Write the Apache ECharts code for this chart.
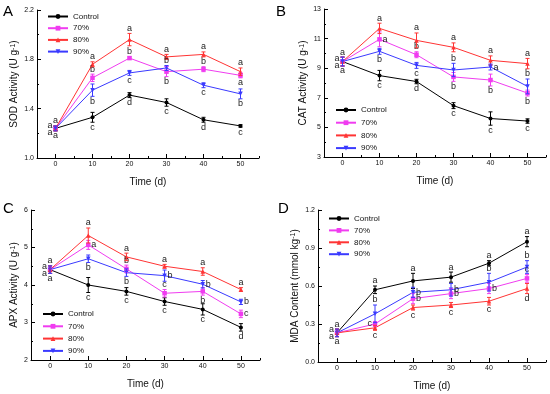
<!DOCTYPE html>
<html><head><meta charset="utf-8">
<script src="https://cdn.jsdelivr.net/npm/echarts@6/dist/echarts.min.js"></script>
<style>html,body{margin:0;padding:0;background:#fff}#c{width:550px;height:394px}</style>
</head><body><div id="c"></div>
<script>
// ---------- data ----------
const days = [0, 10, 20, 30, 40, 50];
const seriesNames = ['Control', '70%', '80%', '90%'];

// A: SOD activity
const sodControl = [1.24, 1.33, 1.51, 1.45, 1.31, 1.26];
const sod70 = [1.24, 1.65, 1.81, 1.70, 1.72, 1.67];
const sod80 = [1.24, 1.76, 1.96, 1.82, 1.84, 1.70];
const sod90 = [1.24, 1.55, 1.69, 1.73, 1.59, 1.52];
const sodControlErr = [0.02, 0.04, 0.02, 0.03, 0.02, 0.01];
const sod70Err = [0.02, 0.03, 0.01, 0.04, 0.02, 0.02];
const sod80Err = [0.02, 0.02, 0.05, 0.02, 0.02, 0.03];
const sod90Err = [0.02, 0.05, 0.02, 0.02, 0.02, 0.04];
const sodControlLetters = ['a', 'c', 'd', 'c', 'd', 'c'];
const sod70Letters = ['a', 'b', 'b', 'b', 'b', 'a'];
const sod80Letters = ['a', 'a', 'a', 'a', 'a', 'a'];
const sod90Letters = ['a', 'b', 'c', 'b', 'c', 'b'];

// B: CAT activity
const catControl = [9.45, 8.50, 8.10, 6.47, 5.60, 5.43];
const cat70 = [9.45, 10.95, 9.91, 8.41, 8.20, 7.32];
const cat80 = [9.45, 11.69, 10.88, 10.41, 9.53, 9.31];
const cat90 = [9.45, 10.14, 9.19, 8.88, 9.08, 7.77];
const catControlErr = [0.3, 0.35, 0.15, 0.2, 0.45, 0.15];
const cat70Err = [0.3, 0.5, 0.2, 0.3, 0.4, 0.2];
const cat80Err = [0.3, 0.35, 0.5, 0.3, 0.3, 0.35];
const cat90Err = [0.3, 0.2, 0.2, 0.45, 0.2, 0.5];
const catControlLetters = ['a', 'c', 'd', 'c', 'c', 'c'];
const cat70Letters = ['a', 'a', 'b', 'b', 'b', 'b'];
const cat80Letters = ['a', 'a', 'a', 'a', 'a', 'a'];
const cat90Letters = ['a', 'b', 'c', 'b', 'a', 'b'];

// C: APX activity
const apxControl = [4.41, 4.00, 3.83, 3.56, 3.35, 2.87];
const apx70 = [4.41, 5.07, 4.43, 3.78, 3.83, 3.23];
const apx80 = [4.41, 5.32, 4.75, 4.50, 4.36, 3.88];
const apx90 = [4.41, 4.70, 4.33, 4.25, 4.02, 3.55];
const apxControlErr = [0.1, 0.2, 0.1, 0.1, 0.15, 0.1];
const apx70Err = [0.1, 0.12, 0.1, 0.1, 0.1, 0.1];
const apx80Err = [0.1, 0.2, 0.1, 0.05, 0.1, 0.05];
const apx90Err = [0.1, 0.1, 0.1, 0.15, 0.1, 0.07];
const apxControlLetters = ['a', 'c', 'c', 'c', 'c', 'd'];
const apx70Letters = ['a', 'a', 'b', 'c', 'b', 'c'];
const apx80Letters = ['a', 'a', 'a', 'a', 'a', 'a'];
const apx90Letters = ['a', 'b', 'b', 'b', 'b', 'b'];

// D: MDA content
const mdaControl = [0.23, 0.57, 0.64, 0.67, 0.78, 0.95];
const mda70 = [0.23, 0.30, 0.50, 0.54, 0.58, 0.66];
const mda80 = [0.23, 0.27, 0.43, 0.45, 0.48, 0.58];
const mda90 = [0.23, 0.38, 0.55, 0.57, 0.63, 0.75];
const mdaControlErr = [0.03, 0.03, 0.06, 0.04, 0.02, 0.04];
const mda70Err = [0.03, 0.02, 0.04, 0.04, 0.04, 0.03];
const mda80Err = [0.03, 0.02, 0.02, 0.02, 0.03, 0.04];
const mda90Err = [0.03, 0.07, 0.04, 0.05, 0.07, 0.05];
const mdaControlLetters = ['a', 'a', 'a', 'a', 'a', 'a'];
const mda70Letters = ['a', 'c', 'b', 'b', 'b', 'c'];
const mda80Letters = ['a', 'c', 'c', 'c', 'c', 'd'];
const mda90Letters = ['a', 'b', 'b', 'b', 'b', 'b'];

// axis tick values
const sodTicks = [1.0, 1.4, 1.8, 2.2];
const catTicks = [3, 5, 7, 9, 11, 13];
const apxTicks = [2, 3, 4, 5, 6];
const mdaTicks = [0.0, 0.3, 0.6, 0.9, 1.2];

// ---------- layout / style (not data) ----------
const colors = ['#000000', '#f03cf0', '#ff3434', '#3a3aff'];
const symbols = ['circle', 'rect', 'triangle', 'path://M0,0L10,0L5,10Z'];
const FONT = 'Arial, "Liberation Sans", sans-serif';
// letter placement around each point: t=above, b=below, l/r=left/right, lu/ld = left upper/lower
const sides = {
  A: [['b','b','b','b','b','b'], ['lu','t','t','b','t','b'], ['t','t','t','t','t','t'], ['ld','b','b','t','b','b']],
  B: [['b','b','b','b','b','b'], ['lu','r','t','b','b','b'], ['t','t','t','t','t','t'], ['ld','b','b','t','r','t']],
  C: [['b','b','b','b','b','b'], ['lu','r','t','t','b','r'], ['t','t','t','t','t','t'], ['ld','b','b','r','r','r']],
  D: [['t','t','t','t','t','t'], ['lu','l','r','r','r','t'], ['b','b','b','b','b','b'], ['ld','t','r','r','t','t']]
};

const panels = [
  { key: 'A', vals: [sodControl, sod70, sod80, sod90], errs: [sodControlErr, sod70Err, sod80Err, sod90Err],
    letters: [sodControlLetters, sod70Letters, sod80Letters, sod90Letters], ticks: sodTicks,
    grid: { left: 37, top: 10, width: 222, height: 148 }, yName: 'SOD Activity (U g{s|-1})', yGap: 16, dec: 1,
    legend: { left: 47, top: 12.5, itemGap: 3.7 }, tag: { left: 3, top: 4 } },
  { key: 'B', vals: [catControl, cat70, cat80, cat90], errs: [catControlErr, cat70Err, cat80Err, cat90Err],
    letters: [catControlLetters, cat70Letters, cat80Letters, cat90Letters], ticks: catTicks,
    grid: { left: 324, top: 9, width: 222, height: 148 }, yName: 'CAT Activity (U g{s|-1})', yGap: 14, dec: 0,
    legend: { left: 335, top: 106, itemGap: 4.7 }, tag: { left: 276, top: 4 } },
  { key: 'C', vals: [apxControl, apx70, apx80, apx90], errs: [apxControlErr, apx70Err, apx80Err, apx90Err],
    letters: [apxControlLetters, apx70Letters, apx80Letters, apx90Letters], ticks: apxTicks,
    grid: { left: 31, top: 210, width: 229, height: 150 }, yName: 'APX Activity (U g{s|-1})', yGap: 11, dec: 0,
    legend: { left: 42, top: 310, itemGap: 4.3 }, tag: { left: 3, top: 201 } },
  { key: 'D', vals: [mdaControl, mda70, mda80, mda90], errs: [mdaControlErr, mda70Err, mda80Err, mda90Err],
    letters: [mdaControlLetters, mda70Letters, mda80Letters, mda90Letters], ticks: mdaTicks,
    grid: { left: 318, top: 210, width: 228, height: 152 }, yName: 'MDA Content (mmol kg{s|-1})', yGap: 18, dec: 1,
    legend: { left: 328, top: 214.5, itemGap: 3.9 }, tag: { left: 278, top: 201 } }
];

function midpoints(arr) {
  const out = [];
  for (let i = 0; i < arr.length - 1; i++) out.push((arr[i] + arr[i + 1]) / 2);
  return out;
}

function makeRender(panel) {
  const sd = sides[panel.key];
  return function (params, api) {
    const x = api.value(0), y = api.value(1), e = api.value(2), s = api.value(3), i = api.value(4);
    const p = api.coord([x, y]);
    const pt = api.coord([x, y + e]);
    const pb = api.coord([x, y - e]);
    const color = colors[s];
    const letter = panel.letters[s][i];
    const side = sd[s][i];
    let tx = p[0], ty = p[1], align = 'center', va = 'middle';
    switch (side) {
      case 't': ty = pt[1] - 0.5; va = 'bottom'; break;
      case 'b': ty = pb[1] + 0.5; va = 'top'; break;
      case 'l': tx = p[0] - 3; align = 'right'; break;
      case 'r': tx = p[0] + 3; align = 'left'; break;
      case 'lu': tx = p[0] - 3; ty = p[1] - 3; align = 'right'; break;
      case 'ld': tx = p[0] - 3; ty = p[1] + 4; align = 'right'; break;
    }
    return {
      type: 'group',
      children: [
        { type: 'line', shape: { x1: p[0], y1: pt[1], x2: p[0], y2: pb[1] }, style: { stroke: color, lineWidth: 1 } },
        { type: 'line', shape: { x1: p[0] - 2, y1: pt[1], x2: p[0] + 2, y2: pt[1] }, style: { stroke: color, lineWidth: 1 } },
        { type: 'line', shape: { x1: p[0] - 2, y1: pb[1], x2: p[0] + 2, y2: pb[1] }, style: { stroke: color, lineWidth: 1 } },
        { type: 'text', x: tx, y: ty, style: { text: letter, fill: '#222', font: '9px ' + FONT, align: align, verticalAlign: va } }
      ]
    };
  };
}

const grids = [], xAxes = [], yAxes = [], series = [], legends = [], graphics = [];
const minorDays = [-5, 5, 15, 25, 35, 45, 55];

panels.forEach((pn, gi) => {
  grids.push(pn.grid);
  const t = pn.ticks;
  const yMin = t[0], yMax = t[t.length - 1];
  // main x axis
  xAxes.push({
    gridIndex: gi, type: 'value', min: -5, max: 55, position: 'bottom',
    axisLine: { onZero: false, lineStyle: { color: '#000', width: 1 } },
    axisTick: { inside: true, length: 4, customValues: days, lineStyle: { color: '#000' } },
    axisLabel: { customValues: days, fontSize: 7, color: '#111', margin: 3, fontFamily: FONT },
    splitLine: { show: false },
    name: 'Time (d)', nameLocation: 'middle', nameGap: 19,
    nameTextStyle: { fontSize: 10, color: '#111', fontFamily: FONT }
  });
  // minor x ticks
  xAxes.push({
    gridIndex: gi, type: 'value', min: -5, max: 55, position: 'bottom',
    axisLine: { show: false, onZero: false },
    axisTick: { inside: true, length: 2, customValues: minorDays, lineStyle: { color: '#000' } },
    axisLabel: { show: false }, splitLine: { show: false }
  });
  // main y axis
  yAxes.push({
    gridIndex: gi, type: 'value', min: yMin, max: yMax, position: 'left',
    axisLine: { show: true, onZero: false, lineStyle: { color: '#000', width: 1 } },
    axisTick: { show: true, inside: true, length: 4, customValues: t, lineStyle: { color: '#000' } },
    axisLabel: { customValues: t, fontSize: 7, color: '#111', margin: 3, fontFamily: FONT,
      formatter: v => Number(v).toFixed(pn.dec) },
    splitLine: { show: false },
    name: pn.yName, nameLocation: 'middle', nameRotate: 90, nameGap: pn.yGap,
    nameTextStyle: { fontSize: 10, color: '#111', fontFamily: FONT,
      rich: { s: { fontSize: 7, verticalAlign: 'top', lineHeight: 7, color: '#111', fontFamily: FONT, padding: [0, 0, 4, 0] } } }
  });
  // minor y ticks
  yAxes.push({
    gridIndex: gi, type: 'value', min: yMin, max: yMax, position: 'left',
    axisLine: { show: false, onZero: false },
    axisTick: { show: true, inside: true, length: 2, customValues: midpoints(t), lineStyle: { color: '#000' } },
    axisLabel: { show: false }, splitLine: { show: false }
  });

  seriesNames.forEach((nm, s) => {
    series.push({
      name: nm, type: 'line', xAxisIndex: gi * 2, yAxisIndex: gi * 2,
      data: days.map((d, i) => [d, pn.vals[s][i]]),
      symbol: symbols[s], symbolSize: s === 0 ? 4 : 4.5,
      lineStyle: { color: colors[s], width: 1 },
      itemStyle: { color: colors[s] },
      z: 3
    });
  });
  const ebData = [];
  pn.vals.forEach((arr, s) => arr.forEach((v, i) => ebData.push([days[i], v, pn.errs[s][i], s, i])));
  series.push({
    type: 'custom', xAxisIndex: gi * 2, yAxisIndex: gi * 2, clip: false,
    renderItem: makeRender(pn), data: ebData, encode: { x: 0, y: 1 }, z: 4, silent: true
  });

  legends.push({
    data: seriesNames, orient: 'vertical', left: pn.legend.left, top: pn.legend.top,
    itemWidth: 20, itemHeight: 6, itemGap: pn.legend.itemGap, padding: 0, selectedMode: false,
    textStyle: { fontSize: 8, lineHeight: 8, color: '#111', fontFamily: FONT }
  });
  graphics.push({
    type: 'text', left: pn.tag.left, top: pn.tag.top,
    style: { text: pn.key, font: '15px ' + FONT, fill: '#000' }
  });
});

const chart = echarts.init(document.getElementById('c'), null, { renderer: 'canvas' });
chart.setOption({
  animation: false,
  backgroundColor: '#fff',
  textStyle: { fontFamily: FONT },
  grid: grids, xAxis: xAxes, yAxis: yAxes, series: series, legend: legends, graphic: graphics
});
</script>
</body></html>
